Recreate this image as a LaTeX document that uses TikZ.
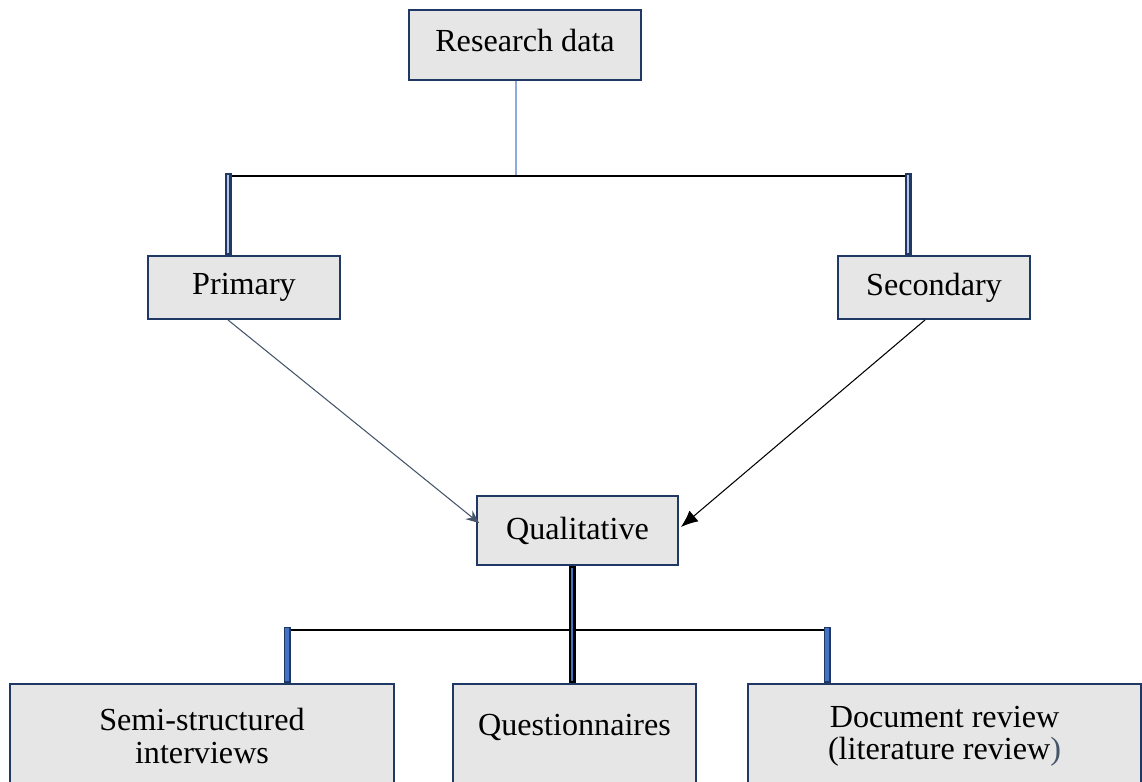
\documentclass[tikz,border=0pt]{standalone}
\usepackage{fontspec}
\setmainfont{Liberation Serif}
\usetikzlibrary{arrows.meta,calc}

\definecolor{boxfill}{HTML}{E7E6E6}
\definecolor{boxline}{HTML}{203864}
\definecolor{linkblue}{HTML}{8FAADC}
\definecolor{barblue}{HTML}{4472C4}
\definecolor{barlight}{HTML}{B4C7E7}
\definecolor{slate}{HTML}{44546A}

\begin{document}
\begin{tikzpicture}[x=0.02cm,y=-0.02cm,
    box/.style={rectangle,draw=boxline,fill=boxfill,line width=1.1pt,inner sep=0pt,
        font=\fontsize{18.3}{18.3}\selectfont,align=center},
    lowbox/.style={box,anchor=north,minimum height=2.08cm},
    thinline/.style={draw=black,line width=0.7pt},
    bar/.style={draw=boxline,double=barlight,line width=0.045cm,double distance=0.05cm,line cap=rect},
    methbar/.style={draw=boxline,double=barblue,line width=0.035cm,double distance=0.07cm,line cap=rect},
    qualbar/.style={draw=black,double=barblue,line width=0.045cm,double distance=0.05cm,line cap=rect}]
    \useasboundingbox (0,0) rectangle (1142,781);
    \clip (0,0) rectangle (1142,781);

    % Top
    \node[box,minimum width=4.64cm,minimum height=1.4cm,text depth=0.2cm] (data) at (525,45) {Research data};

    % Data sources
    \node[box,minimum width=3.84cm,minimum height=1.26cm] (prim) at (244,287.5) {Primary};
    \node[box,minimum width=3.84cm,minimum height=1.26cm] (sec) at (934,287.5) {Secondary};

    % Approach
    \node[box,minimum width=4.02cm,minimum height=1.38cm] (qual) at (577.5,530.5) {Qualitative};

    % Methods
    \node[lowbox,minimum width=7.68cm] (semi) at (202,683) {Semi-structured\\interviews};
    \node[lowbox,minimum width=4.86cm,text height=0.44cm,text depth=0.44cm] (ques) at (574.5,683) {Questionnaires};
    \node[lowbox,minimum width=7.86cm] (doc) at (944.5,683) {Document review\\(literature review\textcolor{slate}{)}};

    % Split under research data
    \coordinate (split) at (516,176);
    \coordinate (lsplit) at (228,176);
    \coordinate (rsplit) at (908,176);
    \draw[draw=linkblue,line width=0.6pt] (data.south -| split) -- (split);
    \draw[thinline] (lsplit) -- (rsplit);
    \draw[bar,shorten >=0.07cm] (lsplit) -- (prim.north -| lsplit);
    \draw[bar,shorten >=0.07cm] (rsplit) -- (sec.north -| rsplit);

    % Sources into approach
    \draw[slate,line width=0.6pt,-{Stealth[length=0.26cm,width=0.22cm]}] ($(prim.south)+(-16,0)$) -- ($(qual.west)+(3,-7.5)$);
    \draw[black,line width=0.6pt,-{Latex[length=0.34cm,width=0.28cm]}] ($(sec.south)+(-9,0)$) -- ($(qual.east)+(2,-3.5)$);

    % Split under qualitative
    \coordinate (msplit) at (572,630);
    \coordinate (lmeth) at (287,630);
    \coordinate (rmeth) at (827,630);
    \draw[thinline] (lmeth) -- (rmeth);
    \draw[methbar,shorten >=0.07cm] (lmeth) -- (semi.north -| lmeth);
    \draw[methbar,shorten >=0.07cm] (rmeth) -- (doc.north -| rmeth);
    \draw[qualbar,shorten <=0.07cm,shorten >=0.07cm] (qual.south -| msplit) -- (ques.north -| msplit);
\end{tikzpicture}
\end{document}
